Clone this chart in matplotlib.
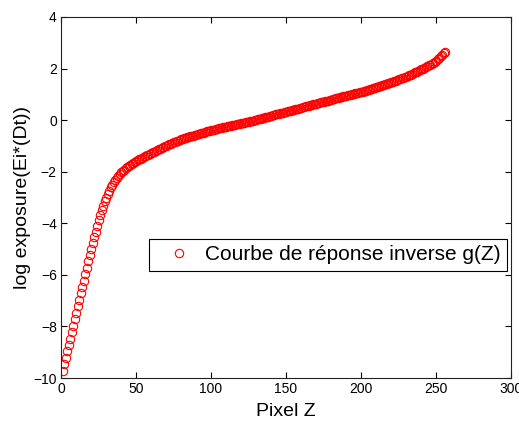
import numpy as np
import matplotlib
matplotlib.use("Agg")
import matplotlib.pyplot as plt

plt.rcParams['font.family'] = ['Liberation Sans', 'DejaVu Sans']

pixel_z = list(range(1, 257))

g_1_60 = [-9.72, -9.47, -9.22, -8.97, -8.72, -8.47, -8.22, -7.97, -7.72, -7.47,
          -7.22, -6.97, -6.72, -6.47, -6.22, -5.97, -5.72, -5.48, -5.24, -5.00,
          -4.77, -4.54, -4.32, -4.10, -3.89, -3.69, -3.50, -3.32, -3.15, -3.00,
          -2.86, -2.73, -2.61, -2.50, -2.40, -2.31, -2.23, -2.16, -2.09, -2.03,
          -1.97, -1.92, -1.87, -1.82, -1.77, -1.73, -1.69, -1.65, -1.61, -1.58,
          -1.55, -1.52, -1.49, -1.46, -1.43, -1.40, -1.37, -1.34, -1.31, -1.28]
g_61_120 = [-1.25, -1.22, -1.19, -1.16, -1.13, -1.10, -1.07, -1.04, -1.02, -0.99,
            -0.96, -0.94, -0.91, -0.89, -0.86, -0.84, -0.82, -0.80, -0.77, -0.75,
            -0.73, -0.71, -0.69, -0.67, -0.65, -0.63, -0.61, -0.60, -0.58, -0.56,
            -0.54, -0.53, -0.51, -0.49, -0.48, -0.46, -0.44, -0.43, -0.41, -0.40,
            -0.38, -0.37, -0.35, -0.34, -0.32, -0.31, -0.30, -0.28, -0.27, -0.26,
            -0.24, -0.23, -0.22, -0.20, -0.19, -0.18, -0.16, -0.15, -0.14, -0.12]
g_121_180 = [-0.11, -0.10, -0.08, -0.07, -0.06, -0.04, -0.03, -0.02, 0.00, 0.01,
             0.03, 0.04, 0.06, 0.08, 0.09, 0.11, 0.12, 0.14, 0.15, 0.17,
             0.19, 0.20, 0.22, 0.23, 0.25, 0.26, 0.28, 0.29, 0.31, 0.33,
             0.34, 0.36, 0.37, 0.39, 0.40, 0.42, 0.43, 0.45, 0.47, 0.48,
             0.50, 0.51, 0.53, 0.54, 0.56, 0.58, 0.59, 0.61, 0.62, 0.64,
             0.65, 0.67, 0.69, 0.70, 0.72, 0.73, 0.75, 0.76, 0.78, 0.80]
g_181_256 = [0.81, 0.83, 0.84, 0.86, 0.87, 0.89, 0.90, 0.92, 0.93, 0.95,
             0.96, 0.98, 0.99, 1.01, 1.02, 1.04, 1.05, 1.07, 1.08, 1.10,
             1.11, 1.13, 1.14, 1.16, 1.17, 1.19, 1.21, 1.23, 1.25, 1.27,
             1.29, 1.31, 1.33, 1.35, 1.37, 1.39, 1.41, 1.43, 1.45, 1.47,
             1.49, 1.51, 1.53, 1.56, 1.58, 1.60, 1.62, 1.65, 1.67, 1.69,
             1.72, 1.74, 1.77, 1.79, 1.82, 1.85, 1.88, 1.91, 1.94, 1.97,
             2.00, 2.03, 2.06, 2.09, 2.12, 2.15, 2.19, 2.23, 2.27, 2.31,
             2.36, 2.41, 2.47, 2.53, 2.59, 2.65]
log_exposure = g_1_60 + g_61_120 + g_121_180 + g_181_256

x_ticks = [0, 50, 100, 150, 200, 250, 300]
y_ticks = [-10, -8, -6, -4, -2, 0, 2, 4]

fig = plt.figure(figsize=(5.19, 4.21), dpi=100)
ax = fig.add_axes([61/519, 1-378/421, 450/519, 361/421])

ax.plot(pixel_z, log_exposure, 'o', color='red', markerfacecolor='none',
        markersize=6, markeredgewidth=0.8, label='Courbe de réponse inverse g(Z)')

ax.set_xlim(0, 300)
ax.set_ylim(-10, 4)
ax.set_xticks(x_ticks)
ax.set_yticks(y_ticks)
ax.tick_params(direction='in', top=True, right=True, length=4, width=0.8,
               labelsize=10, colors='black', pad=3)
for s in ax.spines.values():
    s.set_linewidth(0.8)
    s.set_color('#222222')

ax.set_xlabel('Pixel Z', fontsize=14, labelpad=5)
ax.set_ylabel('log exposure(Ei*(Dt))', fontsize=14, labelpad=2)

leg = ax.legend(loc='upper right', bbox_to_anchor=((507-61)/450, (378-239)/361),
                borderaxespad=0, fontsize=15, fancybox=False, framealpha=1,
                edgecolor='black', borderpad=0.3, handlelength=2.28,
                handletextpad=0.12, numpoints=1)
leg.get_frame().set_linewidth(0.8)

fig.savefig('out.png', dpi=100)
